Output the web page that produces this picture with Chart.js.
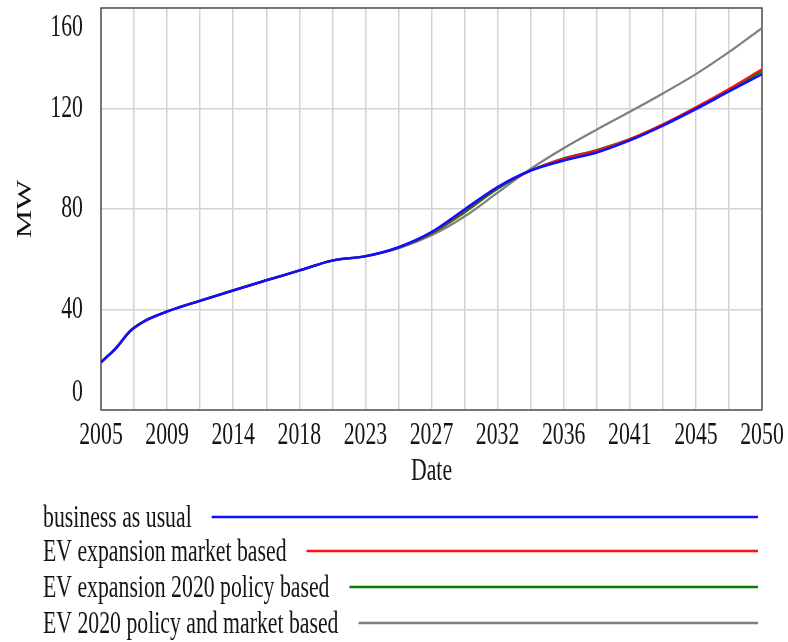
<!DOCTYPE html>
<html>
<head>
<meta charset="utf-8">
<script src="https://cdn.jsdelivr.net/npm/chart.js@4.4.0/dist/chart.umd.js"></script>
<style>
  html, body { margin: 0; padding: 0; background: #fff; }
  canvas { display: block; }
</style>
</head>
<body>
<canvas id="mw-chart" width="788" height="642"></canvas>
<script>
// sample dates (years) the values were read at
const years = [2005, 2006, 2007, 2008, 2009.5, 2011.75, 2014, 2016.25, 2018.5, 2020.75, 2023, 2025.25,
               2027.5, 2029.75, 2032, 2034.25, 2036.5, 2038.75, 2041, 2043.25, 2045.5, 2047.75, 2050];

const businessAsUsual = [19, 24.5, 31.5, 35.5, 39.2, 43.5, 47.6, 51.6, 55.5, 59.5, 61.2, 64.8,
                         70.8, 79.8, 88.7, 95.3, 99.3, 102.5, 107.3, 113.2, 119.8, 126.8, 133.7];
const evMarket = [19, 24.5, 31.5, 35.5, 39.2, 43.5, 47.6, 51.6, 55.5, 59.5, 61.2, 64.7,
                  70.6, 79.4, 88.5, 95.3, 100, 103.3, 107.8, 113.7, 120.5, 127.8, 135.6];
const evPolicy = [19, 24.5, 31.5, 35.5, 39.2, 43.5, 47.6, 51.6, 55.5, 59.5, 61.2, 64.6,
                  70.2, 78.6, 88, 95.3, 100.2, 103.5, 107.8, 113.5, 120.2, 127.3, 134.8];
const evPolicyMarket = [19, 24.5, 31.5, 35.5, 39.2, 43.5, 47.6, 51.6, 55.5, 59.5, 61.2, 64.3,
                        69.5, 77, 86.5, 96, 104.2, 111.6, 118.7, 126, 133.7, 142.4, 152];

const seriesNames = ['business as usual', 'EV expansion market based',
                     'EV expansion 2020 policy based', 'EV 2020 policy and market based'];
const seriesColors = ['#1010ff', '#ff1010', '#008000', '#808080'];

const yTicks = [0, 40, 80, 120, 160];
const xTickLabels = ['2005', '2009', '2014', '2018', '2023', '2027', '2032', '2036', '2041', '2045', '2050'];
const xMin = 2005, xMax = 2050, xGridStep = 2.25;

const FONT = '32px "Liberation Serif", "DejaVu Serif", serif';
const SQUEEZE = 0.68;
const TEXT = '#141414';

function squeezedText(ctx, str, x, y, align) {
    ctx.save();
    ctx.font = FONT;
    const w = ctx.measureText(str).width * SQUEEZE;
    let left = x;
    if (align === 'center') left = x - w / 2;
    else if (align === 'right') left = x - w;
    ctx.translate(left, y);
    ctx.scale(SQUEEZE, 1);
    ctx.textAlign = 'left';
    ctx.fillText(str, 0, 0);
    ctx.restore();
    return w;
}

const framePlugin = {
    id: 'frame',
    beforeDatasetsDraw(chart) {
        const { ctx, chartArea: a } = chart;
        ctx.save();
        ctx.strokeStyle = '#555';
        ctx.lineWidth = 1.5;
        ctx.strokeRect(a.left, a.top, a.right - a.left, a.bottom - a.top);
        ctx.restore();
    },
    afterDraw(chart) {
        const { ctx, chartArea: a, scales } = chart;
        ctx.save();
        ctx.fillStyle = TEXT;
        ctx.textBaseline = 'middle';
        // y tick labels, kept inside the frame height
        yTicks.forEach((v) => {
            const py = Math.min(Math.max(scales.y.getPixelForValue(v), a.top + 20), a.bottom - 17);
            squeezedText(ctx, String(v), 83, py, 'right');
        });
        // x tick labels, every other grid line
        xTickLabels.forEach((lab, i) => {
            const px = scales.x.getPixelForValue(xMin + i * 2 * xGridStep);
            squeezedText(ctx, lab, px, 436, 'center');
        });
        squeezedText(ctx, 'Date', (a.left + a.right) / 2, 472, 'center');
        // y title
        ctx.save();
        ctx.font = FONT;
        ctx.translate(25, (a.top + a.bottom) / 2);
        ctx.scale(SQUEEZE, 1);
        ctx.rotate(-Math.PI / 2);
        ctx.textAlign = 'center';
        ctx.fillText('MW', 0, 0);
        ctx.restore();
        // legend
        const rowY = [517, 551, 587, 623];
        ctx.textBaseline = 'alphabetic';
        seriesNames.forEach((name, i) => {
            const w = squeezedText(ctx, name, 43, rowY[i] + 10, 'left');
            ctx.beginPath();
            ctx.strokeStyle = seriesColors[i];
            ctx.lineWidth = 2.5;
            ctx.moveTo(43 + w + 20, rowY[i]);
            ctx.lineTo(758, rowY[i]);
            ctx.stroke();
        });
        ctx.restore();
    },
};

const seriesData = [businessAsUsual, evMarket, evPolicy, evPolicyMarket];

new Chart(document.getElementById('mw-chart'), {
    type: 'line',
    data: {
        datasets: seriesData.map((vals, i) => ({
            label: seriesNames[i],
            data: years.map((yr, k) => ({ x: yr, y: vals[k] })),
            borderColor: seriesColors[i],
            borderWidth: i === 0 ? 2.6 : 2.2,
            pointRadius: 0,
            cubicInterpolationMode: 'monotone',
            fill: false,
        })),
    },
    options: {
        responsive: false,
        animation: false,
        layout: { padding: { left: 101, top: 8, right: 26, bottom: 232 } },
        plugins: { legend: { display: false }, tooltip: { enabled: false } },
        scales: {
            x: {
                type: 'linear', min: xMin, max: xMax,
                afterBuildTicks: (s) => {
                    const t = [];
                    for (let v = xMin; v <= xMax + 0.001; v += xGridStep) t.push({ value: v });
                    s.ticks = t;
                },
                ticks: { display: false },
                grid: { color: '#d4d4d4', lineWidth: 1.5, drawTicks: false },
                border: { display: false },
            },
            y: {
                min: 0, max: 160,
                afterBuildTicks: (s) => { s.ticks = yTicks.map((v) => ({ value: v })); },
                ticks: { display: false },
                grid: { color: '#d4d4d4', lineWidth: 1.5, drawTicks: false },
                border: { display: false },
            },
        },
    },
    plugins: [framePlugin],
});
</script>
</body>
</html>
